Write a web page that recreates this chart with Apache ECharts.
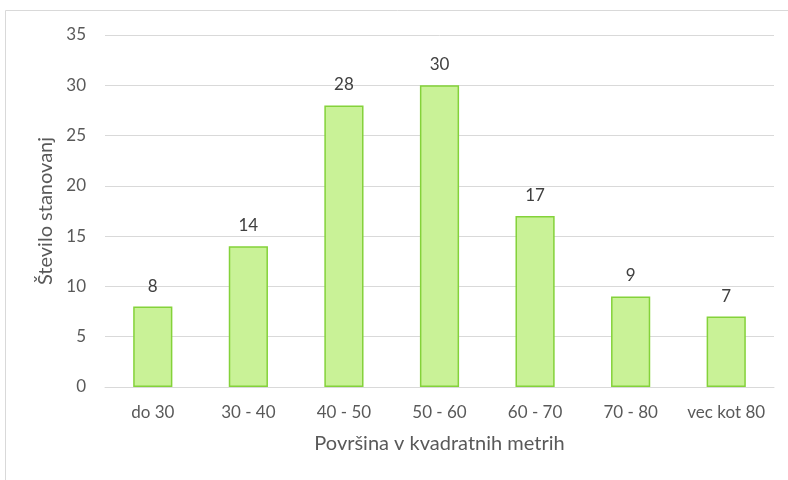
<!DOCTYPE html>
<html>
<head>
<meta charset="utf-8">
<script src="https://cdn.jsdelivr.net/npm/echarts@6/dist/echarts.min.js"></script>
<style>
  html, body { margin: 0; padding: 0; background: #fff; }
  #chart { width: 788px; height: 480px; }
</style>
</head>
<body>
<div id="chart"></div>
<script>
// velikostni razredi stanovanj
var categories = ['do 30', '30 - 40', '40 - 50', '50 - 60', '60 - 70', '70 - 80', 'vec kot 80'];
var counts = [8, 14, 28, 30, 17, 9, 7];

var font = 'Lato, "Open Sans", sans-serif';

var myChart = echarts.init(document.getElementById('chart'));
var option = {
    backgroundColor: '#ffffff',
    animation: false,
    textStyle: { fontFamily: font },
    graphic: [{
        type: 'rect',
        shape: { x: 5.5, y: 10.5, width: 820, height: 520 },
        style: { fill: 'none', stroke: '#d9d9d9', lineWidth: 1 },
        silent: true
    }],
    grid: { left: 105, right: 14, top: 35, bottom: 93 },
    xAxis: {
        type: 'category',
        data: categories,
        name: 'Površina v kvadratnih metrih',
        nameLocation: 'middle',
        nameGap: 47,
        nameTextStyle: { fontSize: 20, color: '#595959', fontFamily: font },
        axisLine: { lineStyle: { color: '#d9d9d9' } },
        axisTick: { show: false },
        axisLabel: { interval: 0, hideOverlap: false, fontSize: 17, color: '#595959', margin: 17, fontFamily: font }
    },
    yAxis: {
        type: 'value',
        min: 0,
        max: 35,
        interval: 5,
        name: 'Število stanovanj',
        nameLocation: 'middle',
        nameGap: 44,
        nameTextStyle: { fontSize: 20, color: '#595959', fontFamily: font },
        axisLine: { show: false },
        axisTick: { show: false },
        axisLabel: { fontSize: 17, color: '#595959', margin: 19, fontFamily: font },
        splitLine: { lineStyle: { color: '#d9d9d9' } }
    },
    series: [{
        type: 'bar',
        data: counts,
        barWidth: '41%',
        itemStyle: {
            color: '#c9f297',
            borderColor: '#84d23a',
            borderWidth: 1.5
        },
        label: {
            show: true,
            position: 'top',
            distance: 12,
            fontSize: 17,
            color: '#404040',
            fontFamily: font
        }
    }]
};
myChart.setOption(option);
</script>
</body>
</html>
